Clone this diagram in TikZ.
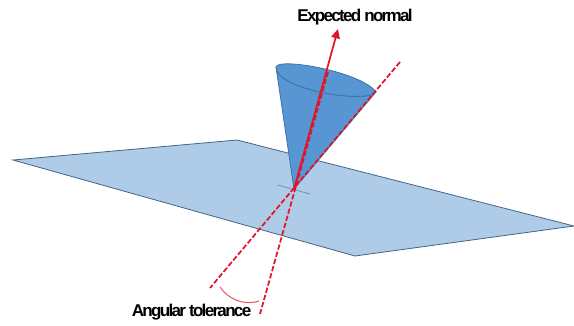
\documentclass[tikz,border=0pt]{standalone}
\usepackage{fontspec}
\setmainfont{Liberation Sans}[LetterSpace=-10]
\usetikzlibrary{arrows.meta}
\definecolor{planefill}{RGB}{174,204,232}
\definecolor{planeedge}{RGB}{70,100,135}
\definecolor{conefill}{RGB}{87,150,210}
\definecolor{coneedge}{RGB}{60,115,170}
\definecolor{redline}{RGB}{225,20,40}
\tikzset{
 x=0.75pt,y=-0.75pt,
 plane/.style={fill=planefill,draw=planeedge,line width=0.6pt},
 cone/.style={fill=conefill,draw=coneedge,line width=0.6pt},
 axisdash/.style={draw=redline,line width=1.3pt,dash pattern=on 4pt off 1.6pt},
 axisarrow/.style={draw=redline,line width=1.3pt,-{Triangle[length=7pt,width=6.5pt]}},
 arcline/.style={draw=redline!70!white,line width=0.8pt},
 lab/.style={font=\fontsize{12.8}{14}\selectfont\bfseries,text=black,inner sep=0pt,anchor=center}
}
\begin{document}
\begin{tikzpicture}
\useasboundingbox (0,0) rectangle (574,325);
\coordinate (apex) at (294,189);
\coordinate (coneL) at (276,67);
\coordinate (coneR) at (376,92);
\coordinate (tip) at (338,29);
\draw[plane] (13,160) -- (237,140) -- (574,226) -- (355,256) -- cycle;
\draw[draw=planeedge!50!planefill,line width=0.7pt] (278,185) -- (310,194);
\draw[cone] (coneL) -- (apex) -- (coneR)
  .. controls (368,104) and (276,90) .. (coneL) -- cycle;
\draw[cone] (coneL) .. controls (278,57) and (362,72) .. (coneR)
  .. controls (368,104) and (276,90) .. (coneL) -- cycle;
\draw[axisarrow] (apex) -- (tip);
\coordinate (d1a) at (400,62);
\coordinate (d1b) at (210,288);
\coordinate (d2a) at (328,72);
\coordinate (d2b) at (260,314);
\draw[axisdash] (d1a) -- (d1b);
\draw[axisdash] (d2a) -- (d2b);
\coordinate (arcA) at (220,287);
\coordinate (arcB) at (259,301);
\draw[arcline] (arcA) .. controls (228,299) and (244,306) .. (arcB);
\node[lab] (expected) at (355,17) {Expected normal};
\node[lab] (angular) at (191.5,312) {Angular tolerance};
\end{tikzpicture}
\end{document}
